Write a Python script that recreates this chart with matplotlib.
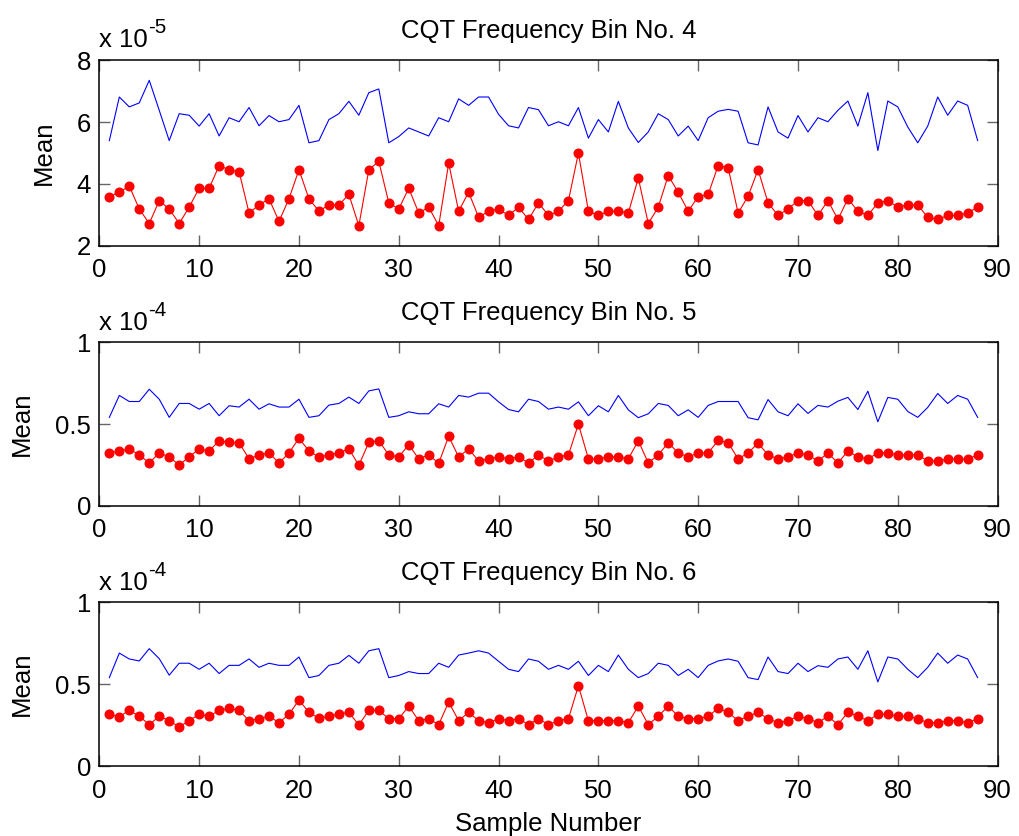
import numpy as np
from matplotlib import pyplot as plt

plt.rcParams["font.family"] = ["Liberation Sans", "DejaVu Sans"]

sample = np.arange(1, 89)

# bin 4 (x 1e-5)
bin4_blue = [5.40, 6.81, 6.49, 6.62, 7.35, 6.38, 5.40, 6.27, 6.22, 5.87,
             6.27, 5.55, 6.14, 6.01, 6.47, 5.88, 6.21, 6.01, 6.08, 6.54,
             5.33, 5.40, 6.08, 6.27, 6.67, 6.22, 6.95, 7.07, 5.33, 5.53,
             5.81, 5.68, 5.55, 6.14, 6.01, 6.75, 6.54, 6.81, 6.81, 6.25,
             5.88, 5.81, 6.47, 6.40, 5.88, 6.01, 5.88, 6.47, 5.48, 6.08,
             5.68, 6.67, 5.81, 5.34, 5.68, 6.27, 6.08, 5.55, 5.87, 5.40,
             6.14, 6.35, 6.41, 6.35, 5.33, 5.26, 6.49, 5.68, 5.48, 6.21,
             5.68, 6.14, 6.01, 6.38, 6.68, 5.87, 6.95, 5.08, 6.68, 6.49,
             5.84, 5.33, 5.87, 6.81, 6.22, 6.68, 6.54, 5.40]
bin4_red = [3.59, 3.73, 3.93, 3.19, 2.72, 3.46, 3.19, 2.72, 3.25, 3.86,
            3.86, 4.59, 4.46, 4.40, 3.06, 3.32, 3.52, 2.79, 3.52, 4.46,
            3.52, 3.12, 3.32, 3.32, 3.66, 2.65, 4.46, 4.73, 3.39, 3.19,
            3.86, 3.06, 3.25, 2.65, 4.67, 3.12, 3.73, 2.92, 3.12, 3.19,
            2.98, 3.25, 2.85, 3.39, 2.98, 3.12, 3.46, 5.00, 3.12, 2.98,
            3.12, 3.12, 3.06, 4.19, 2.72, 3.25, 4.27, 3.73, 3.12, 3.59,
            3.66, 4.59, 4.53, 3.06, 3.60, 4.46, 3.39, 2.98, 3.19, 3.46,
            3.46, 2.98, 3.46, 2.85, 3.52, 3.12, 2.98, 3.39, 3.46, 3.25,
            3.32, 3.32, 2.92, 2.85, 2.98, 2.98, 3.06, 3.25]

# bin 5 (x 1e-4)
bin5_blue = [0.541, 0.675, 0.638, 0.638, 0.713, 0.652, 0.541, 0.626, 0.626, 0.591,
             0.626, 0.551, 0.612, 0.604, 0.652, 0.591, 0.624, 0.604, 0.604, 0.652,
             0.541, 0.551, 0.616, 0.626, 0.665, 0.626, 0.703, 0.715, 0.541, 0.551,
             0.575, 0.563, 0.563, 0.624, 0.604, 0.675, 0.665, 0.689, 0.689, 0.636,
             0.589, 0.575, 0.652, 0.638, 0.591, 0.604, 0.591, 0.636, 0.551, 0.612,
             0.575, 0.675, 0.587, 0.539, 0.563, 0.626, 0.614, 0.551, 0.587, 0.541,
             0.614, 0.638, 0.638, 0.638, 0.539, 0.526, 0.650, 0.575, 0.551, 0.624,
             0.565, 0.614, 0.604, 0.640, 0.663, 0.589, 0.701, 0.514, 0.663, 0.652,
             0.577, 0.541, 0.602, 0.687, 0.626, 0.675, 0.652, 0.541]
bin5_red = [0.325, 0.335, 0.348, 0.311, 0.262, 0.323, 0.299, 0.250, 0.299, 0.348,
            0.335, 0.398, 0.388, 0.386, 0.287, 0.311, 0.323, 0.262, 0.323, 0.413,
            0.335, 0.299, 0.311, 0.323, 0.348, 0.248, 0.388, 0.398, 0.311, 0.299,
            0.374, 0.287, 0.311, 0.260, 0.425, 0.299, 0.348, 0.274, 0.287, 0.299,
            0.287, 0.299, 0.262, 0.311, 0.274, 0.299, 0.311, 0.500, 0.287, 0.287,
            0.299, 0.299, 0.287, 0.398, 0.262, 0.311, 0.386, 0.323, 0.299, 0.323,
            0.323, 0.400, 0.386, 0.287, 0.323, 0.384, 0.311, 0.287, 0.299, 0.323,
            0.311, 0.274, 0.323, 0.262, 0.335, 0.299, 0.287, 0.323, 0.323, 0.311,
            0.311, 0.311, 0.274, 0.274, 0.287, 0.287, 0.287, 0.311]

# bin 6 (x 1e-4)
bin6_blue = [0.540, 0.690, 0.654, 0.642, 0.717, 0.656, 0.555, 0.628, 0.628, 0.591,
             0.628, 0.565, 0.615, 0.615, 0.654, 0.603, 0.628, 0.615, 0.615, 0.666,
             0.540, 0.553, 0.615, 0.628, 0.676, 0.628, 0.704, 0.717, 0.540, 0.553,
             0.577, 0.565, 0.565, 0.628, 0.603, 0.678, 0.690, 0.704, 0.690, 0.640,
             0.591, 0.577, 0.654, 0.640, 0.591, 0.615, 0.591, 0.640, 0.553, 0.615,
             0.577, 0.678, 0.591, 0.540, 0.565, 0.628, 0.615, 0.553, 0.591, 0.540,
             0.615, 0.642, 0.654, 0.640, 0.540, 0.528, 0.666, 0.577, 0.565, 0.628,
             0.577, 0.613, 0.603, 0.654, 0.666, 0.591, 0.704, 0.514, 0.666, 0.654,
             0.591, 0.540, 0.603, 0.690, 0.628, 0.678, 0.654, 0.540]
bin6_red = [0.316, 0.302, 0.340, 0.304, 0.253, 0.304, 0.277, 0.239, 0.277, 0.316,
            0.304, 0.340, 0.352, 0.340, 0.277, 0.289, 0.304, 0.265, 0.316, 0.403,
            0.328, 0.292, 0.304, 0.318, 0.328, 0.251, 0.340, 0.340, 0.289, 0.289,
            0.366, 0.277, 0.289, 0.253, 0.391, 0.277, 0.328, 0.277, 0.265, 0.289,
            0.277, 0.289, 0.253, 0.289, 0.253, 0.277, 0.289, 0.490, 0.277, 0.277,
            0.277, 0.277, 0.265, 0.366, 0.253, 0.304, 0.366, 0.304, 0.289, 0.289,
            0.304, 0.352, 0.328, 0.277, 0.304, 0.328, 0.289, 0.265, 0.277, 0.304,
            0.289, 0.265, 0.304, 0.253, 0.328, 0.304, 0.277, 0.316, 0.316, 0.304,
            0.304, 0.289, 0.265, 0.265, 0.277, 0.277, 0.265, 0.289]

panels = [
    ("CQT Frequency Bin No. 4", bin4_blue, bin4_red, "-5", (2, 8), [2, 4, 6, 8], ["2", "4", "6", "8"]),
    ("CQT Frequency Bin No. 5", bin5_blue, bin5_red, "-4", (0, 1), [0, 0.5, 1], ["0", "0.5", "1"]),
    ("CQT Frequency Bin No. 6", bin6_blue, bin6_red, "-4", (0, 1), [0, 0.5, 1], ["0", "0.5", "1"]),
]
rects = [[0.0975, 0.706, 0.8815, 0.222],
         [0.0975, 0.395, 0.8815, 0.1955],
         [0.0975, 0.0837, 0.8815, 0.1958]]

fig = plt.figure(figsize=(10.19, 8.36), dpi=100)
fs = 18.5
for rect, (title, blue, red, expo, ylim, yt, ytl) in zip(rects, panels):
    ax = fig.add_axes(rect)
    ax.plot(sample, blue, "-", color="#0000ff", lw=0.8)
    ax.plot(sample, red, "-o", color="#ff0000", lw=0.8, ms=6.2)
    ax.set_xlim(0, 90)
    ax.set_ylim(*ylim)
    ax.set_xticks(range(0, 91, 10))
    ax.set_yticks(yt)
    ax.set_yticklabels(ytl)
    ax.tick_params(direction="in", top=True, right=True, labelsize=fs,
                   length=8, width=1, color="#666666")
    ax.tick_params(axis="x", pad=9)
    ax.tick_params(axis="y", pad=6)
    for s in ax.spines.values():
        s.set_linewidth(1.1)
    ax.set_title(title, fontsize=fs, pad=16)
    ax.set_ylabel("Mean", fontsize=fs, labelpad=15)
    t = ax.text(0.0, 1.045, "x 10", transform=ax.transAxes,
                fontsize=fs, ha="left", va="bottom")
    ax.annotate(expo, xy=(1, 0.62), xycoords=t, fontsize=fs * 0.8,
                ha="left", va="bottom")
ax.set_xlabel("Sample Number", fontsize=fs, labelpad=7)

fig.savefig("out.png", dpi=100)
